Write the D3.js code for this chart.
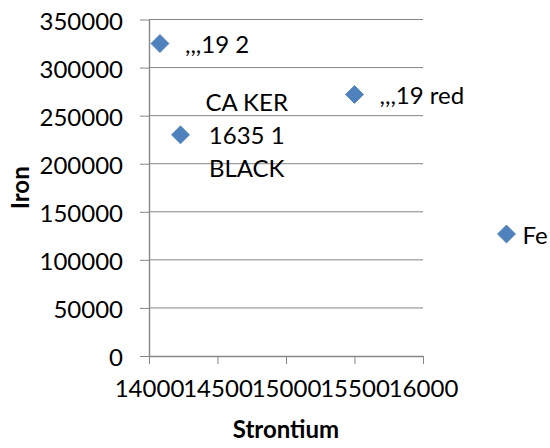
<!DOCTYPE html>
<html>
<head>
<meta charset="utf-8">
<script src="https://cdn.jsdelivr.net/npm/d3@7"></script>
<style>
  html, body { margin: 0; padding: 0; background: #fff; }
  svg { display: block; }
  text { font-family: Lato, "Open Sans", sans-serif; fill: #000; }
</style>
</head>
<body>
<svg id="chart" width="550" height="448"></svg>
<script>
// Sample readings: strontium vs. iron
const sampleLabels = [",,,19 2", "CA KER\n1635 1\nBLACK", ",,,19 red"];
const strontium = [14080, 14230, 15500];
const iron = [325000, 230000, 272000];
const seriesName = "Fe";

const xTicks = [14000, 14500, 15000, 15500, 16000];
const yTicks = [0, 50000, 100000, 150000, 200000, 250000, 300000, 350000];

const W = 550, H = 448;
const plot = { left: 149, right: 423, top: 19.5, bottom: 356 };
const fontSize = 24;
const gridColor = "#878787";
const markerFill = "#4F81BD";
const markerStroke = "#4A7EBB";

const svg = d3.select("#chart");

const x = d3.scaleLinear().domain([14000, 16000]).range([plot.left, plot.right]);
const y = d3.scaleLinear().domain([0, 350000]).range([plot.bottom, plot.top]);

// Horizontal gridlines
svg.append("g")
  .selectAll("line")
  .data(yTicks.filter(d => d > 0))
  .join("line")
  .attr("x1", plot.left).attr("x2", plot.right)
  .attr("y1", d => y(d)).attr("y2", d => y(d))
  .attr("stroke", gridColor).attr("stroke-width", 1);

// Y axis
const yAxis = svg.append("g")
  .attr("transform", `translate(${plot.left},0)`)
  .call(d3.axisLeft(y).tickValues(yTicks).tickSize(9).tickSizeOuter(0).tickPadding(17).tickFormat(d3.format("d")));
yAxis.select(".domain").attr("stroke", gridColor).attr("stroke-width", 1.4);
yAxis.selectAll(".tick line").attr("stroke", gridColor).attr("stroke-width", 1);
yAxis.selectAll(".tick text")
  .attr("dy", null)
  .attr("dominant-baseline", "central")
  .style("font-size", fontSize + "px")
  .style("font-family", "Lato, 'Open Sans', sans-serif")
  .attr("fill", "#000");

// X axis
const xAxis = svg.append("g")
  .attr("transform", `translate(0,${plot.bottom})`)
  .call(d3.axisBottom(x).tickValues(xTicks).tickSize(8).tickSizeOuter(0).tickFormat(d3.format("d")));
xAxis.select(".domain").attr("stroke", gridColor).attr("stroke-width", 1.4);
xAxis.selectAll(".tick line").attr("stroke", gridColor).attr("stroke-width", 1);
xAxis.selectAll(".tick text")
  .attr("y", 31)
  .attr("dy", null)
  .attr("dominant-baseline", "central")
  .style("font-size", fontSize + "px")
  .style("font-family", "Lato, 'Open Sans', sans-serif")
  .attr("fill", "#000");

// Axis titles
svg.append("text")
  .attr("x", (plot.left + plot.right) / 2)
  .attr("y", 428)
  .attr("text-anchor", "middle")
  .attr("dominant-baseline", "central")
  .style("font-size", fontSize + "px")
  .style("font-weight", "bold")
  .text("Strontium");

svg.append("text")
  .attr("transform", `translate(19,${(plot.top + plot.bottom) / 2}) rotate(-90)`)
  .attr("text-anchor", "middle")
  .attr("dominant-baseline", "central")
  .style("font-size", fontSize + "px")
  .style("font-weight", "bold")
  .text("Iron");

// Diamond marker
const diamond = d3.symbol().type(d3.symbolSquare).size(162);

const points = strontium.map((s, i) => ({ s, fe: iron[i], label: sampleLabels[i] }));

svg.append("g")
  .selectAll("path")
  .data(points)
  .join("path")
  .attr("d", diamond)
  .attr("transform", d => `translate(${x(d.s)},${y(d.fe)}) rotate(45)`)
  .attr("fill", markerFill)
  .attr("stroke", markerStroke)
  .attr("stroke-width", 0.75);

// Data labels placed to the right of each marker, lines centred in their block
const lineGap = 33;
const labelGroup = svg.append("g");
points.forEach(d => {
  const lines = d.label.split("\n");
  const g = labelGroup.append("g");
  const texts = g.selectAll("text")
    .data(lines)
    .join("text")
    .attr("y", (l, i) => y(d.fe) + (i - (lines.length - 1) / 2) * lineGap)
    .attr("dominant-baseline", "central")
    .attr("text-anchor", "middle")
    .style("font-size", fontSize + "px")
    .text(l => l);
  let maxW = 0;
  texts.each(function () { maxW = Math.max(maxW, this.getComputedTextLength()); });
  texts.attr("x", x(d.s) + 25 + maxW / 2);
});

// Legend
const legend = svg.append("g").attr("transform", "translate(506.5,234)");
legend.append("path")
  .attr("d", diamond)
  .attr("transform", "rotate(45)")
  .attr("fill", markerFill)
  .attr("stroke", markerStroke)
  .attr("stroke-width", 0.75);
legend.append("text")
  .attr("x", 16)
  .attr("dominant-baseline", "central")
  .style("font-size", fontSize + "px")
  .text(seriesName);
</script>
</body>
</html>
